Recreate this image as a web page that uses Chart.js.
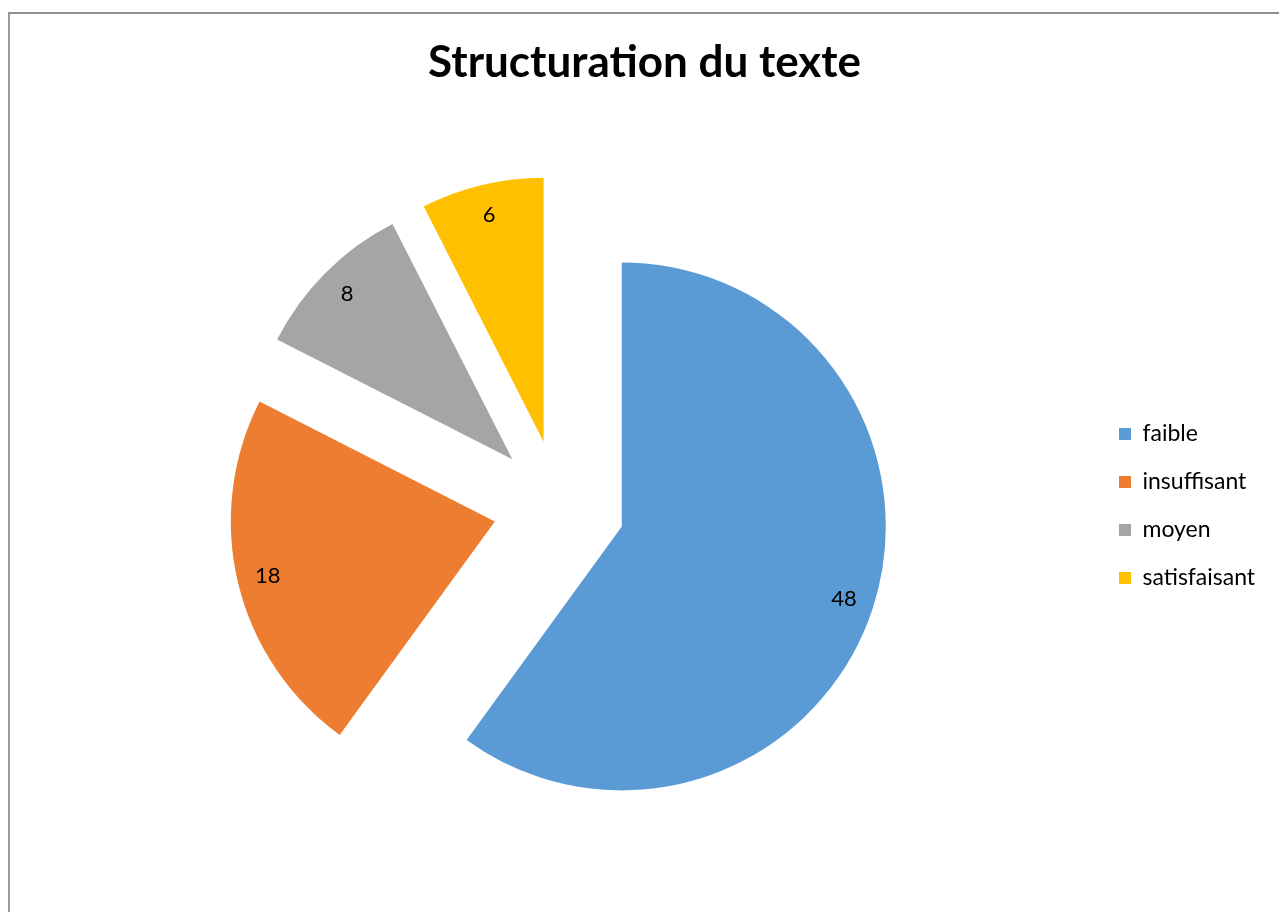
<!DOCTYPE html>
<html lang="fr">
<head>
<meta charset="utf-8">
<title>Structuration du texte</title>
<script src="https://cdn.jsdelivr.net/npm/chart.js@4.4.1/dist/chart.umd.min.js"></script>
<style>
  html, body { margin: 0; padding: 0; background: #ffffff; }
  #wrap { position: relative; width: 1279px; height: 912px; overflow: hidden; }
  #frame {
    position: absolute; left: 8px; top: 12px; width: 1400px; height: 1000px;
    border-left: 2px solid #9b9b9b; border-top: 2px solid #8f8f8f; box-sizing: border-box;
  }
  canvas { position: absolute; left: 0; top: 0; }
</style>
</head>
<body>
<div id="wrap">
  <div id="frame"></div>
  <canvas id="chart" width="1279" height="912"></canvas>
</div>
<script>
// Categories and counts
const categories = ['faible', 'insuffisant', 'moyen', 'satisfaisant'];
const counts = [48, 18, 8, 6];
const sliceColors = ['#5B9BD5', '#ED7D31', '#A5A5A5', '#FFC000'];
const chartTitle = 'Structuration du texte';

const FONT = 'Lato, "Open Sans", sans-serif';
const PIE_RADIUS = 264;       // drawn radius of every slice
const EXPLODE = 66;           // distance each slice is pulled out
const LEGEND_FONT = 23;
const LABEL_FONT = 22;
const LEGEND_PAD = 25;
const LEGEND_BOX_LEFT = 1119;
const PIE_CENTER_X = 559;

// Width of the widest legend entry, used to place the legend column
const mctx = document.createElement('canvas').getContext('2d');
mctx.font = LEGEND_FONT + 'px ' + FONT;
const widest = Math.max(...categories.map(c => mctx.measureText(c).width));
const itemWidth = 12 + LEGEND_FONT / 2 + widest;
const padRight = 1279 - (LEGEND_BOX_LEFT + itemWidth + 10);
const padLeft = 2 * PIE_CENTER_X - (LEGEND_BOX_LEFT - LEGEND_PAD);

// Chart.js enlarges exploded arcs and trims their outer angle;
// undo both so every slice keeps the full radius and its true angle.
const evenSlices = {
  id: 'evenSlices',
  afterDatasetsUpdate(chart) {
    chart.getDatasetMeta(0).data.forEach(arc => {
      const o = (arc.options.offset || 0) / 4;
      const fix = 1 - Math.sin(Math.min(Math.PI, arc.circumference || 0));
      const grow = o * fix;
      arc.outerRadius = PIE_RADIUS - grow;
      const trim = grow / (2 * Math.PI * PIE_RADIUS);
      arc.startAngle -= trim;
      arc.endAngle += trim;
    });
  }
};

// Value labels placed near the outer edge of each slice
const valueLabels = {
  id: 'valueLabels',
  afterDatasetsDraw(chart) {
    const ctx = chart.ctx;
    const meta = chart.getDatasetMeta(0);
    const values = chart.data.datasets[0].data;
    ctx.save();
    ctx.font = LABEL_FONT + 'px ' + FONT;
    ctx.fillStyle = '#000000';
    ctx.textAlign = 'center';
    ctx.textBaseline = 'middle';
    meta.data.forEach((arc, i) => {
      const mid = (arc.startAngle + arc.endAngle) / 2;
      const shift = (arc.options.offset || 0) / 4;
      const d = shift + PIE_RADIUS * 0.885;
      ctx.fillText(String(values[i]), arc.x + Math.cos(mid) * d, arc.y + Math.sin(mid) * d);
    });
    ctx.restore();
  }
};

new Chart(document.getElementById('chart'), {
  type: 'pie',
  data: {
    labels: categories,
    datasets: [{
      data: counts,
      backgroundColor: sliceColors,
      borderWidth: 0,
      offset: EXPLODE * 4,
      hoverOffset: EXPLODE * 4,
      clip: false
    }]
  },
  options: {
    responsive: false,
    animation: false,
    radius: PIE_RADIUS,
    layout: { padding: { left: padLeft, right: padRight, top: 12, bottom: 0 } },
    plugins: {
      title: {
        display: true,
        text: chartTitle,
        color: '#000000',
        font: { family: FONT, size: 44, weight: 'bold' },
        padding: { top: 24, bottom: 11.2 }
      },
      legend: {
        position: 'right',
        fullSize: false,
        labels: {
          color: '#000000',
          font: { family: FONT, size: LEGEND_FONT },
          boxWidth: 12,
          boxHeight: 12,
          padding: LEGEND_PAD
        }
      },
      tooltip: { enabled: false }
    }
  },
  plugins: [evenSlices, valueLabels]
});
</script>
</body>
</html>
